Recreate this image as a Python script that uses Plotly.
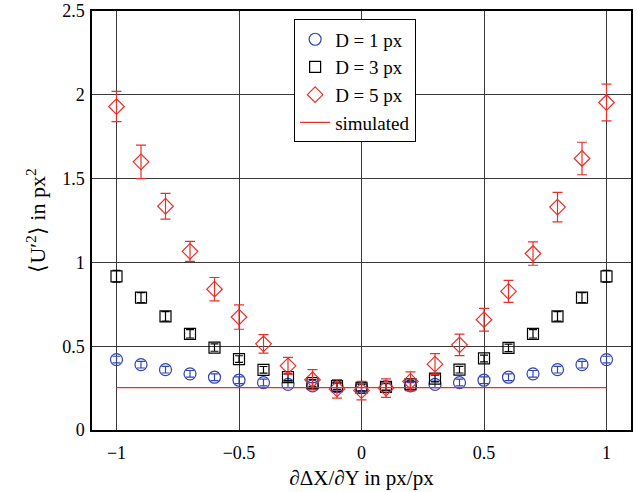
import plotly.graph_objects as go

x = [-1.0, -0.9, -0.8, -0.7, -0.6, -0.5, -0.4, -0.3, -0.2, -0.1, 0.0,
     0.1, 0.2, 0.3, 0.4, 0.5, 0.6, 0.7, 0.8, 0.9, 1.0]

d1 = [0.42, 0.39, 0.36, 0.335, 0.315, 0.297, 0.283, 0.272, 0.263, 0.258, 0.255,
      0.258, 0.263, 0.272, 0.283, 0.297, 0.315, 0.335, 0.36, 0.39, 0.42]
d1_err = [0.02] * 21

d3 = [0.917, 0.79, 0.678, 0.574, 0.492, 0.423, 0.359, 0.315, 0.28, 0.262, 0.252,
      0.257, 0.272, 0.307, 0.36, 0.427, 0.49, 0.574, 0.678, 0.79, 0.917]
d3_err = [0.035, 0.03, 0.028, 0.025, 0.022, 0.02, 0.02, 0.02, 0.02, 0.02, 0.02,
          0.02, 0.02, 0.02, 0.02, 0.02, 0.022, 0.025, 0.028, 0.03, 0.035]

d5 = [1.93, 1.60, 1.335, 1.066, 0.84, 0.674, 0.514, 0.383, 0.30, 0.245, 0.235,
      0.25, 0.29, 0.393, 0.508, 0.658, 0.827, 1.053, 1.33, 1.62, 1.954]
d5_err = [0.09, 0.1, 0.077, 0.06, 0.07, 0.073, 0.055, 0.05, 0.06, 0.055, 0.055,
          0.055, 0.057, 0.063, 0.064, 0.068, 0.066, 0.07, 0.088, 0.097, 0.11]

sim_x = [-1.0, 1.0]
sim_y = [0.253, 0.253]

BLUE = "#2f45b0"
RED = "#e8302a"
FONT = "Liberation Serif"

fig = go.Figure()

fig.add_trace(go.Scatter(
    x=x, y=d1, mode="markers", name="D = 1 px",
    marker=dict(symbol="circle-open", size=12, color=BLUE, line=dict(width=1.2)),
    error_y=dict(type="data", array=d1_err, color=BLUE, thickness=1.2, width=4),
))
fig.add_trace(go.Scatter(
    x=x, y=d3, mode="markers", name="D = 3 px",
    marker=dict(symbol="square-open", size=11, color="black", line=dict(width=1.2)),
    error_y=dict(type="data", array=d3_err, color="black", thickness=1.2, width=4),
))
fig.add_trace(go.Scatter(
    x=x, y=d5, mode="markers", name="D = 5 px",
    marker=dict(symbol="diamond-open", size=12, color=RED, line=dict(width=1.2)),
    error_y=dict(type="data", array=d5_err, color=RED, thickness=1.2, width=5),
))
fig.add_trace(go.Scatter(
    x=sim_x, y=sim_y, mode="lines", name="simulated",
    line=dict(color=RED, width=1.2),
))

axis_common = dict(
    showline=True, linecolor="black", linewidth=1.5, mirror=True,
    showgrid=True, gridcolor="#3a3a3a", gridwidth=1, automargin=False,
    zeroline=False, ticks="", tickfont=dict(family=FONT, size=18, color="black"),
)

fig.update_layout(
    width=637, height=492,
    margin=dict(l=92, r=6, t=11, b=62),
    paper_bgcolor="white", plot_bgcolor="white",
    font=dict(family=FONT, color="black"),
    showlegend=True,
    legend=dict(
        x=0.375, y=0.98, xanchor="left", yanchor="top",
        bgcolor="white", bordercolor="black", borderwidth=1,
        font=dict(family=FONT, size=19, color="black"),
        tracegroupgap=0, itemwidth=30,
    ),
    xaxis=dict(
        range=[-1.1, 1.1], tickvals=[-1, -0.5, 0, 0.5, 1],
        ticktext=["\u22121", "\u22120.5", "0", "0.5", "1"],
        ticklabelstandoff=6,
        title=dict(text="\u2202\u0394X/\u2202Y in px/px", font=dict(family=FONT, size=21), standoff=8),
        **axis_common,
    ),
    yaxis=dict(
        range=[0, 2.5], tickvals=[0, 0.5, 1, 1.5, 2, 2.5],
        ticktext=["0", "0.5", "1", "1.5", "2", "2.5"],
        ticklabelstandoff=2,
        title=dict(text="\u27e8U\u2032<sup>2</sup>\u27e9 in px<sup>2</sup>", font=dict(family=FONT, size=22), standoff=10),
        **axis_common,
    ),
)

fig.write_html("out.html")
